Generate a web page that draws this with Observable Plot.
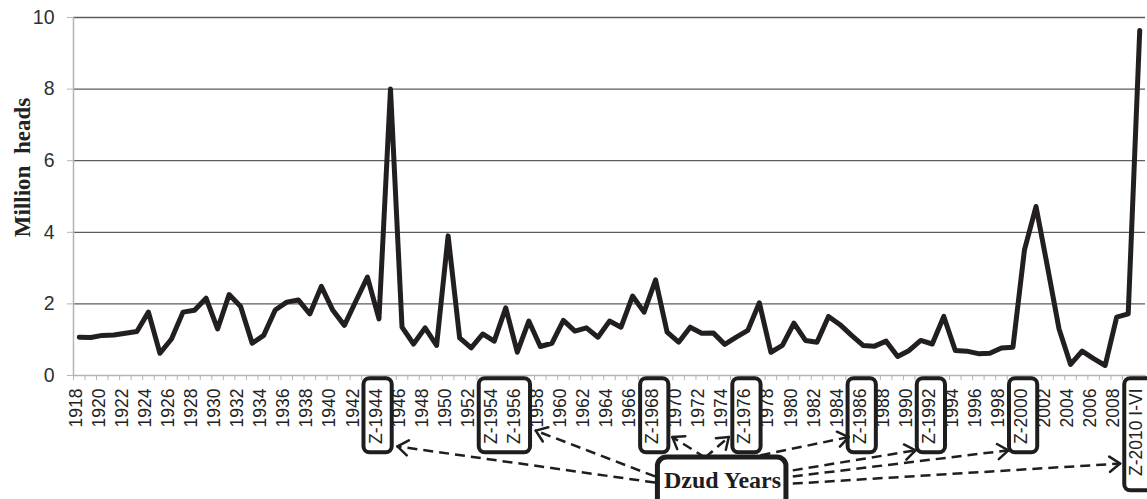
<!DOCTYPE html>
<html><head><meta charset="utf-8">
<script src="https://cdn.jsdelivr.net/npm/d3@7"></script>
<script src="https://cdn.jsdelivr.net/npm/@observablehq/plot@0.6"></script>
<style>
html,body{margin:0;padding:0;background:#fff;overflow:hidden;}
#chart{width:1147px;height:499px;overflow:hidden;position:relative;}
</style></head><body><div id="chart"></div>
<script>
// ---------- data ----------
const years = d3.range(1918, 2011);
const values = [
  1.07, 1.06, 1.12, 1.13, 1.18, 1.23, 1.77, 0.62, 1.02, 1.77,
  1.82, 2.16, 1.30, 2.26, 1.93, 0.90, 1.12, 1.83, 2.05, 2.11,
  1.72, 2.49, 1.82, 1.40, 2.08, 2.75, 1.58, 8.00, 1.35, 0.88,
  1.33, 0.84, 3.90, 1.05, 0.77, 1.16, 0.96, 1.89, 0.65, 1.52,
  0.81, 0.90, 1.54, 1.24, 1.33, 1.07, 1.52, 1.35, 2.22, 1.77,
  2.67, 1.21, 0.93, 1.35, 1.18, 1.19, 0.87, 1.07, 1.26, 2.03,
  0.65, 0.84, 1.46, 0.98, 0.93, 1.65, 1.42, 1.12, 0.84, 0.82,
  0.96, 0.53, 0.70, 0.98, 0.88, 1.65, 0.70, 0.68, 0.61, 0.62,
  0.77, 0.79, 3.51, 4.72, 3.03, 1.30, 0.31, 0.68, 0.47, 0.28,
  1.63, 1.72, 9.64
];
const labelYears = d3.range(1918, 2011, 2);
const dzudYears = [1944, 1954, 1956, 1968, 1976, 1986, 1992, 2000, 2010];
const dzudLabels = ["Z-1944", "Z-1954", "Z-1956", "Z-1968", "Z-1976", "Z-1986", "Z-1992", "Z-2000", "Z-2010 I-VI"];
const dzudGroups = [[1944], [1954, 1956], [1968], [1976], [1986], [1992], [2000], [2010]];
const yTicks = [0, 2, 4, 6, 8, 10];
const yTitle = "Million\u00a0 heads";
const calloutText = "Dzud Years";

// ---------- layout ----------
const W = 1147, H = 499, mL = 73, mR = 2, mT = 17, mB = 124;
const xDom = [1917.5, 2010.5], yDom = [0, 10];
const kx = (W - mL - mR) / (xDom[1] - xDom[0]);
const ky = (H - mT - mB) / (yDom[1] - yDom[0]);

const series = years.map((year, i) => ({year, value: values[i]}));
const labelOf = y => {
  const k = dzudYears.indexOf(y);
  return k >= 0 ? dzudLabels[k] : String(y);
};

// label boxes (in data units, below the axis)
const boxes = dzudGroups.map(g => {
  const long = labelOf(g[g.length - 1]).length > 6;
  return {x1: d3.min(g) - 1.3, x2: d3.max(g) + 1.15, y1: -0.09, y2: long ? -3.22 : -2.16};
});

// callout box
const callout = {x1: 1968.2, x2: 1979.35, y1: -2.29, y2: -3.9, tx: 1973.8, ty: -2.94};

// dashed arrows from callout to labels
const arrows = [
  {x1: 1967.95, y1: -2.99, x2: 1945.6, y2: -1.98},
  {x1: 1967.95, y1: -2.82, x2: 1957.6, y2: -1.54},
  {x1: 1972.3, y1: -2.29, x2: 1969.45, y2: -1.72},
  {x1: 1972.3, y1: -2.29, x2: 1974.35, y2: -1.72},
  {x1: 1977.1, y1: -2.23, x2: 1984.75, y2: -1.72},
  {x1: 1979.9, y1: -2.65, x2: 1990.55, y2: -2.09},
  {x1: 1979.9, y1: -2.82, x2: 1998.6, y2: -2.09},
  {x1: 1979.9, y1: -3.02, x2: 2008.3, y2: -2.46}
];
// open arrowheads computed in pixel space, converted back to data units
const headLen = 13, headAng = 36 * Math.PI / 180;
const wings = arrows.flatMap(a => {
  const dx = (a.x2 - a.x1) * kx, dy = -(a.y2 - a.y1) * ky;
  const ang = Math.atan2(dy, dx) + Math.PI;
  return [-headAng, headAng].map(s => ({
    x1: a.x2 + headLen * Math.cos(ang + s) / kx,
    y1: a.y2 - headLen * Math.sin(ang + s) / ky,
    x2: a.x2, y2: a.y2
  }));
});

const tickBounds = d3.range(1917.5, 2011, 1);
const axisGray = "#b4b4b4";

const plot = Plot.plot({
  width: W, height: H,
  marginLeft: mL, marginRight: mR, marginTop: mT, marginBottom: mB,
  style: {fontFamily: "'Liberation Sans', Arial, sans-serif", background: "white", overflow: "visible"},
  x: {domain: xDom, label: null},
  y: {domain: yDom, label: null},
  marks: [
    Plot.gridY([2, 4, 6, 8, 10], {stroke: "#5c5c5c", strokeOpacity: 1, strokeWidth: 1.3}),
    Plot.ruleY([0], {stroke: axisGray, strokeWidth: 1.5}),
    Plot.ruleX([xDom[0]], {stroke: axisGray, strokeWidth: 1.5}),
    Plot.axisY({ticks: yTicks, tickSize: 6, tickPadding: 13, stroke: axisGray, fill: "#303030",
      fontSize: 19.5, label: null, tickFormat: d => String(d)}),
    Plot.axisX({ticks: tickBounds, tickSize: 5, tickFormat: () => "", stroke: axisGray, label: null}),
    Plot.axisX({ticks: labelYears, tickSize: 0, tickPadding: 13, tickRotate: -90, dx: -3,
      tickFormat: labelOf, fontSize: 17.5, fill: "#222", label: null}),
    Plot.line(series, {x: "year", y: "value", stroke: "#231f20", strokeWidth: 5,
      strokeLinejoin: "round", strokeLinecap: "round"}),
    Plot.text([yTitle], {text: d => d, frameAnchor: "left", textAnchor: "middle", lineAnchor: "middle",
      dx: -51, dy: -29, rotate: -90,
      fontFamily: "'Liberation Serif', 'Times New Roman', serif", fontWeight: "bold", fontSize: 23, fill: "#222"}),
    Plot.rect(boxes, {x1: "x1", x2: "x2", y1: "y1", y2: "y2", fill: "none", stroke: "#1e1e1e", strokeWidth: 4, rx: 6}),
    Plot.link(arrows, {x1: "x1", y1: "y1", x2: "x2", y2: "y2", stroke: "#1e1e1e", strokeWidth: 2.5, strokeDasharray: "10,6"}),
    Plot.link(wings, {x1: "x1", y1: "y1", x2: "x2", y2: "y2", stroke: "#1e1e1e", strokeWidth: 2.5, strokeLinecap: "round"}),
    Plot.rect([callout], {x1: "x1", x2: "x2", y1: "y1", y2: "y2", fill: "white", stroke: "#1e1e1e", strokeWidth: 5, rx: 9}),
    Plot.text([callout], {x: "tx", y: "ty", text: () => calloutText,
      fontFamily: "'Liberation Serif', 'Times New Roman', serif", fontWeight: "bold", fontSize: 24, fill: "#1e1e1e"})
  ]
});
document.getElementById("chart").appendChild(plot);
</script></body></html>
